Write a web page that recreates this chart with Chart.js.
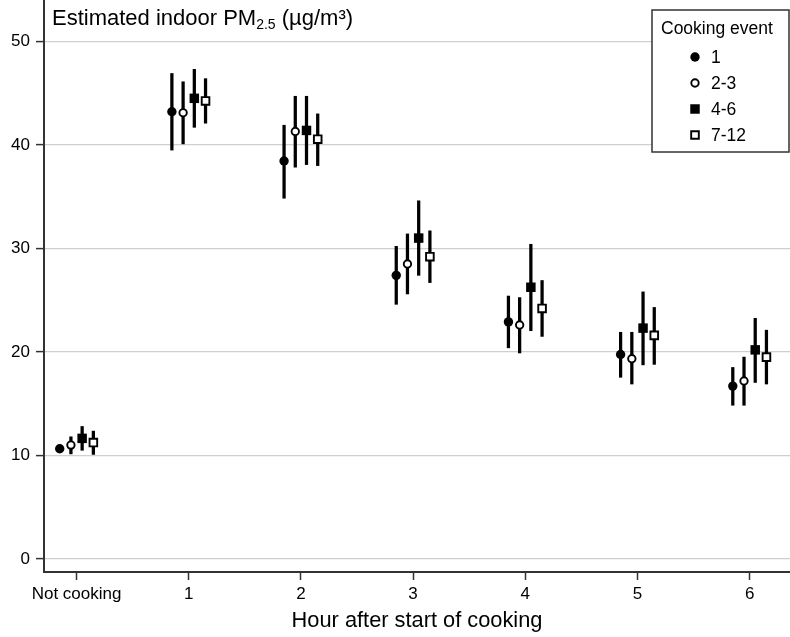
<!DOCTYPE html>
<html>
<head>
<meta charset="utf-8">
<script src="https://cdn.jsdelivr.net/npm/chart.js@4/dist/chart.umd.min.js"></script>
<style>
  html, body { margin: 0; padding: 0; background: #fff; }
  canvas { display: block; }
</style>
</head>
<body>
<canvas id="chart" width="790" height="637"></canvas>
<script>
// hour categories (x positions 0..6)
const hourLabels = ['Not cooking', '1', '2', '3', '4', '5', '6'];
const yTicks = [0, 10, 20, 30, 40, 50];
const eventNames = ['1', '2-3', '4-6', '7-12'];

// estimated PM2.5 per cooking event, with 95% CI
const pm1 = [10.65, 43.2, 38.45, 27.4, 22.9, 19.75, 16.7];
const pm1Lo = [10.4, 39.5, 34.85, 24.6, 20.4, 17.55, 14.85];
const pm1Hi = [10.9, 46.9, 41.9, 30.2, 25.4, 21.9, 18.5];

const pm23 = [11.0, 43.1, 41.3, 28.5, 22.6, 19.35, 17.2];
const pm23Lo = [10.15, 40.1, 37.85, 25.6, 19.9, 16.9, 14.85];
const pm23Hi = [11.8, 46.1, 44.7, 31.4, 25.25, 21.9, 19.5];

const pm46 = [11.65, 44.5, 41.4, 31.0, 26.25, 22.3, 20.2];
const pm46Lo = [10.5, 41.7, 38.1, 27.4, 22.05, 18.75, 17.05];
const pm46Hi = [12.8, 47.3, 44.7, 34.6, 30.4, 25.8, 23.25];

const pm712 = [11.25, 44.25, 40.55, 29.2, 24.2, 21.6, 19.5];
const pm712Lo = [10.1, 42.1, 38.0, 26.7, 21.5, 18.8, 16.9];
const pm712Hi = [12.35, 46.4, 43.0, 31.7, 26.9, 24.3, 22.1];

const FONT = "'Liberation Sans', Arial, Helvetica, sans-serif";
const DARK = '#333';

const groups = [
  { mean: pm1, lo: pm1Lo, hi: pm1Hi, shift: -0.15, style: 'circle', fill: '#000', r: 4.7, bw: 0 },
  { mean: pm23, lo: pm23Lo, hi: pm23Hi, shift: -0.05, style: 'circle', fill: '#fff', r: 3.7, bw: 1.9 },
  { mean: pm46, lo: pm46Lo, hi: pm46Hi, shift: 0.05, style: 'rect', fill: '#000', r: 6.7, bw: 0 },
  { mean: pm712, lo: pm712Lo, hi: pm712Hi, shift: 0.15, style: 'rect', fill: '#fff', r: 5.4, bw: 1.9 }
];

const datasets = [];
groups.forEach((g, k) => {
  datasets.push({
    type: 'bar',
    label: eventNames[k] + ' CI',
    data: g.mean.map((v, i) => ({ x: i + g.shift, y: [g.lo[i], g.hi[i]] })),
    backgroundColor: '#000',
    borderWidth: 0,
    barThickness: 2.6,
    grouped: false,
    order: 2
  });
  datasets.push({
    type: 'scatter',
    label: eventNames[k],
    data: g.mean.map((v, i) => ({ x: i + g.shift, y: v })),
    pointStyle: g.style,
    pointRadius: g.r,
    pointBackgroundColor: g.fill,
    pointBorderColor: '#000',
    pointBorderWidth: g.bw,
    order: 1
  });
});

// title inside the plot, with subscript
const yTitle = {
  id: 'yTitle',
  afterDraw(chart) {
    const ctx = chart.ctx;
    ctx.save();
    ctx.fillStyle = '#000';
    ctx.textBaseline = 'alphabetic';
    let x = 52;
    const y = 25;
    ctx.font = '22px ' + FONT;
    ctx.fillText('Estimated indoor PM', x, y);
    x += ctx.measureText('Estimated indoor PM').width;
    ctx.font = '14px ' + FONT;
    ctx.fillText('2.5', x, y + 4);
    x += ctx.measureText('2.5').width;
    ctx.font = '22px ' + FONT;
    ctx.fillText(' (µg/m³)', x, y);
    ctx.restore();
  }
};

// boxed legend at the top right
const boxLegend = {
  id: 'boxLegend',
  afterDraw(chart) {
    const ctx = chart.ctx;
    ctx.save();
    ctx.fillStyle = '#fff';
    ctx.fillRect(652, 10, 137, 142);
    ctx.strokeStyle = DARK;
    ctx.lineWidth = 1.5;
    ctx.strokeRect(652, 10, 137, 142);
    ctx.fillStyle = '#000';
    ctx.font = '17.5px ' + FONT;
    ctx.textBaseline = 'alphabetic';
    ctx.fillText('Cooking event', 661, 34);
    ctx.textBaseline = 'middle';
    const rows = [57, 83, 109, 135];
    groups.forEach((g, k) => {
      const cy = rows[k];
      const cx = 695;
      ctx.fillStyle = g.fill;
      ctx.strokeStyle = '#000';
      ctx.lineWidth = g.bw;
      ctx.beginPath();
      if (g.style === 'circle') {
        ctx.arc(cx, cy, g.r, 0, Math.PI * 2);
      } else {
        const h = g.r * Math.SQRT1_2;
        ctx.rect(cx - h, cy - h, 2 * h, 2 * h);
      }
      ctx.fill();
      if (g.bw) ctx.stroke();
      ctx.fillStyle = '#000';
      ctx.fillText(eventNames[k], 711, cy + 1);
    });
    ctx.restore();
  }
};

const noPad = (s) => {
  s.paddingTop = 0;
  s.paddingBottom = 0;
  s.paddingLeft = 0;
  s.paddingRight = 0;
};

new Chart(document.getElementById('chart'), {
  type: 'scatter',
  data: { datasets: datasets },
  options: {
    responsive: false,
    animation: false,
    layout: { padding: 0, autoPadding: false },
    plugins: {
      legend: { display: false },
      tooltip: { enabled: false },
      title: { display: false }
    },
    scales: {
      x: {
        type: 'linear',
        min: -0.29,
        max: 6.36,
        offset: false,
        afterBuildTicks: (s) => { s.ticks = hourLabels.map((l, i) => ({ value: i })); },
        afterFit: (s) => { s.height = 65; noPad(s); },
        ticks: {
          autoSkip: false,
          maxRotation: 0,
          padding: 4,
          color: '#000',
          font: { family: FONT, size: 17 },
          callback: (v) => hourLabels[v]
        },
        grid: { offset: false, drawOnChartArea: false, drawTicks: true, tickLength: 8, tickColor: DARK, tickWidth: 1.5 },
        border: { display: true, color: DARK, width: 2 },
        title: {
          display: true,
          text: 'Hour after start of cooking',
          color: '#000',
          font: { family: FONT, size: 21.8 },
          padding: { top: 0, bottom: 3 }
        }
      },
      y: {
        type: 'linear',
        min: -1.26,
        max: 54,
        afterBuildTicks: (s) => { s.ticks = yTicks.map(v => ({ value: v })); },
        afterFit: (s) => { s.width = 44; noPad(s); },
        ticks: {
          padding: 6,
          color: '#000',
          font: { family: FONT, size: 17 }
        },
        grid: { color: '#cfcfcf', lineWidth: 1.2, drawTicks: true, tickLength: 8, tickColor: DARK, tickWidth: 1.5 },
        border: { display: true, color: DARK, width: 2 }
      }
    }
  },
  plugins: [yTitle, boxLegend]
});
</script>
</body>
</html>
